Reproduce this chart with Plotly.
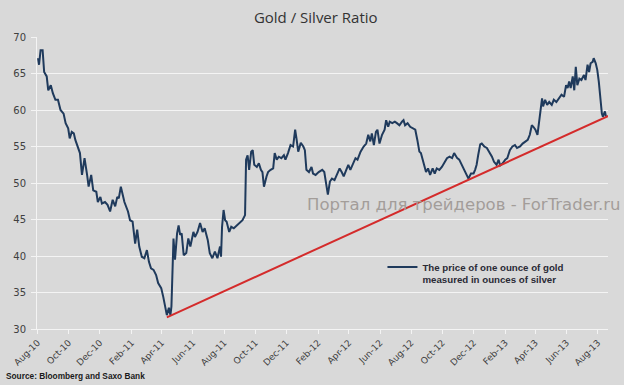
import plotly.graph_objects as go

# ---- data ----
dates = [
    "2010-08-02","2010-08-04","2010-08-07","2010-08-11","2010-08-14","2010-08-19","2010-08-22","2010-08-27","2010-08-31",
    "2010-09-05","2010-09-10","2010-09-15","2010-09-21","2010-09-25","2010-09-30",
    "2010-10-03","2010-10-07","2010-10-11","2010-10-14","2010-10-19","2010-10-23","2010-10-27",
    "2010-11-01","2010-11-06","2010-11-09","2010-11-14","2010-11-18","2010-11-24","2010-11-27",
    "2010-12-02","2010-12-05","2010-12-11","2010-12-16","2010-12-21","2010-12-26","2010-12-31",
    "2011-01-04","2011-01-07","2011-01-11","2011-01-18","2011-01-25","2011-01-29",
    "2011-02-03","2011-02-08","2011-02-12","2011-02-16","2011-02-21","2011-02-26",
    "2011-03-03","2011-03-07","2011-03-11","2011-03-16","2011-03-21","2011-03-25","2011-03-31",
    "2011-04-04","2011-04-07","2011-04-11","2011-04-15","2011-04-18","2011-04-20","2011-04-24","2011-04-27",
    "2011-05-01","2011-05-04","2011-05-07","2011-05-10","2011-05-14","2011-05-19","2011-05-23","2011-05-27",
    "2011-06-02","2011-06-05","2011-06-10","2011-06-15","2011-06-20","2011-06-24","2011-06-30",
    "2011-07-04","2011-07-09","2011-07-14","2011-07-19","2011-07-24","2011-07-26","2011-07-28","2011-07-31",
    "2011-08-03","2011-08-06","2011-08-11","2011-08-15","2011-08-20","2011-08-26",
    "2011-09-01","2011-09-06","2011-09-11","2011-09-13","2011-09-16","2011-09-19","2011-09-23","2011-09-26","2011-09-29",
    "2011-10-04","2011-10-08","2011-10-12","2011-10-15","2011-10-18","2011-10-23","2011-10-26","2011-10-31",
    "2011-11-05","2011-11-08","2011-11-12","2011-11-16","2011-11-21","2011-11-26","2011-11-29",
    "2011-12-04","2011-12-09","2011-12-14","2011-12-18","2011-12-21","2011-12-24","2011-12-29",
    "2012-01-03","2012-01-06","2012-01-09","2012-01-14","2012-01-19","2012-01-22","2012-01-27",
    "2012-02-02","2012-02-09","2012-02-13","2012-02-17","2012-02-20","2012-02-24","2012-02-28",
    "2012-03-04","2012-03-09","2012-03-14","2012-03-18","2012-03-22","2012-03-27","2012-03-31",
    "2012-04-04","2012-04-09","2012-04-14","2012-04-18","2012-04-24","2012-04-30",
    "2012-05-05","2012-05-09","2012-05-13","2012-05-16","2012-05-20","2012-05-24","2012-05-27","2012-05-31",
    "2012-06-05","2012-06-10","2012-06-13","2012-06-17","2012-06-20","2012-06-25","2012-06-30",
    "2012-07-04","2012-07-09","2012-07-14","2012-07-17","2012-07-20","2012-07-25","2012-07-30",
    "2012-08-04","2012-08-09","2012-08-13","2012-08-17","2012-08-20","2012-08-23","2012-08-27","2012-08-30",
    "2012-09-03","2012-09-07","2012-09-12","2012-09-16","2012-09-20","2012-09-25","2012-09-30",
    "2012-10-05","2012-10-10","2012-10-15","2012-10-20","2012-10-24","2012-10-30",
    "2012-11-03","2012-11-08","2012-11-13","2012-11-18","2012-11-21","2012-11-26",
    "2012-12-01","2012-12-04","2012-12-07","2012-12-10","2012-12-14","2012-12-17","2012-12-22","2012-12-27",
    "2013-01-02","2013-01-06","2013-01-10","2013-01-15","2013-01-19","2013-01-22","2013-01-27",
    "2013-02-01","2013-02-05","2013-02-10","2013-02-15","2013-02-20","2013-02-24",
    "2013-03-02","2013-03-07","2013-03-12","2013-03-17","2013-03-21","2013-03-25","2013-03-28",
    "2013-04-01","2013-04-05","2013-04-08","2013-04-11","2013-04-14","2013-04-16","2013-04-20","2013-04-24","2013-04-28",
    "2013-05-03","2013-05-07","2013-05-12","2013-05-17","2013-05-22","2013-05-27","2013-05-31",
    "2013-06-03","2013-06-06","2013-06-09","2013-06-13","2013-06-16","2013-06-19","2013-06-22","2013-06-26","2013-06-30",
    "2013-07-05","2013-07-08","2013-07-12","2013-07-15","2013-07-18","2013-07-22","2013-07-24","2013-07-28","2013-07-31",
    "2013-08-03","2013-08-06","2013-08-09","2013-08-11","2013-08-15","2013-08-17",
]
ratio = [
    67.1,66.2,68.2,68.2,65.2,64.6,62.7,63.4,62.3,
    61.4,61.4,60.0,59.5,58.2,57.5,
    56.1,57.0,56.8,55.9,54.8,54.1,51.1,
    53.4,51.1,49.5,51.1,49.0,48.8,47.4,
    48.1,47.2,47.4,47.0,46.1,47.7,46.8,
    48.1,47.9,49.5,47.4,46.1,44.9,
    44.7,41.7,43.6,41.3,39.9,39.7,
    40.8,39.2,38.3,38.1,37.4,36.3,35.6,
    34.4,33.2,31.9,32.9,31.9,33.1,42.4,39.5,
    43.1,44.2,42.9,43.1,40.1,40.4,42.4,41.3,
    43.3,42.6,43.3,44.5,43.3,43.8,42.2,
    40.4,39.7,40.6,39.7,41.3,39.9,44.0,46.3,
    44.9,44.7,43.3,44.0,43.8,44.2,
    44.7,44.9,45.6,53.2,53.8,51.8,54.3,54.5,52.5,
    52.2,52.7,51.8,51.5,49.5,50.9,51.5,51.8,
    52.0,54.1,53.2,53.6,53.4,53.8,53.2,
    54.1,55.2,55.0,57.3,55.9,54.3,55.5,
    55.0,54.5,51.8,51.5,52.2,51.3,51.1,
    51.5,51.8,51.5,50.0,48.4,50.2,50.6,
    50.4,51.1,52.0,51.5,50.9,51.8,52.5,
    51.8,52.5,53.4,53.2,54.3,55.0,
    55.4,56.6,55.7,56.8,55.2,57.0,57.3,55.4,
    56.6,57.3,58.6,57.7,58.4,58.2,58.4,
    58.2,57.9,58.4,58.6,57.9,58.2,57.7,
    57.5,57.3,55.9,54.3,54.1,53.2,52.2,51.5,
    52.0,51.1,52.0,51.3,52.0,51.8,52.2,
    52.9,53.4,53.6,53.4,54.1,53.4,
    53.2,52.5,51.8,51.1,50.6,51.3,
    51.3,51.8,52.5,53.8,55.3,55.4,55.0,54.8,
    54.1,53.6,52.9,52.5,53.2,52.4,52.7,
    53.2,53.4,54.5,55.0,55.2,54.8,
    55.0,55.4,55.7,55.9,56.6,57.9,57.7,
    57.3,56.6,58.4,60.5,61.6,60.5,61.4,60.7,61.1,
    60.7,61.4,61.1,61.6,62.1,61.8,63.4,
    63.0,63.9,63.0,64.6,62.7,65.9,63.4,64.3,64.1,
    64.8,64.1,66.2,65.2,66.4,66.6,67.1,66.4,65.5,
    63.9,61.6,59.5,59.1,59.8,59.1,
]
trend_dates = ["2011-04-11", "2013-09-13"]
trend_values = [31.6, 59.9]

tick_vals = ["2010-08-01","2010-10-01","2010-12-01","2011-02-01","2011-04-01","2011-06-01",
             "2011-08-01","2011-10-01","2011-12-01","2012-02-01","2012-04-01","2012-06-01",
             "2012-08-01","2012-10-01","2012-12-01","2013-02-01","2013-04-01","2013-06-01","2013-08-01"]
tick_text = ["Aug-10","Oct-10","Dec-10","Feb-11","Apr-11","Jun-11","Aug-11","Oct-11","Dec-11",
             "Feb-12","Apr-12","Jun-12","Aug-12","Oct-12","Dec-12","Feb-13","Apr-13","Jun-13","Aug-13"]
y_ticks = [30, 35, 40, 45, 50, 55, 60, 65, 70]

BG = "#d9d9d9"

fig = go.Figure()
fig.add_trace(go.Scatter(
    x=dates, y=ratio, mode="lines",
    line=dict(color="#1f3a5c", width=2),
    name="The price of one ounce of gold<br>measured in ounces of silver",
))
fig.add_trace(go.Scatter(
    x=trend_dates, y=trend_values, mode="lines",
    line=dict(color="#d42b2b", width=2),
    showlegend=False,
))

fig.update_layout(
    width=624, height=385,
    margin=dict(l=35, r=16, t=37, b=56),
    paper_bgcolor=BG, plot_bgcolor=BG,
    title=dict(text="Gold / Silver Ratio", x=0.506, xanchor="center",
               y=0.953, yanchor="middle", yref="container",
               font=dict(family="Open Sans", size=15, color="#333333")),
    font=dict(family="DejaVu Sans", size=9, color="#404040"),
    showlegend=True,
    legend=dict(x=0.605, y=0.256, xanchor="left", yanchor="top",
                bgcolor="rgba(0,0,0,0)", valign="top", itemwidth=30,
                font=dict(family="Liberation Sans", size=9.7, color="#2a2a35", weight="bold")),
    xaxis=dict(type="date", range=["2010-07-31", "2013-08-21"],
               tickmode="array", tickvals=tick_vals, ticktext=tick_text,
               tickangle=-45, showgrid=False, showline=True, linecolor="#f4f4f4", linewidth=1,
               ticks="outside", ticklen=4, tickcolor="#f4f4f4",
               tickfont=dict(family="DejaVu Sans", size=9, color="#404040")),
    yaxis=dict(range=[30, 70], tickmode="array", tickvals=y_ticks,
               showgrid=True, gridcolor="#f4f4f4", gridwidth=1, zeroline=False,
               showline=True, linecolor="#f4f4f4", linewidth=1,
               ticks="outside", ticklen=5, tickcolor="#f4f4f4", ticklabelstandoff=3,
               tickfont=dict(family="DejaVu Sans", size=10, color="#404040")),
    annotations=[
        dict(text="Портал для трейдеров - ForTrader.ru", xref="paper", yref="paper",
             x=0.747, y=0.425, xanchor="center", yanchor="middle", showarrow=False,
             font=dict(family="DejaVu Sans", size=16.5, color="#a39d99")),
        dict(text="Source: Bloomberg and Saxo Bank", xref="paper", yref="paper",
             x=-0.057, y=-0.161, xanchor="left", yanchor="middle", showarrow=False,
             font=dict(family="Liberation Sans", size=8.3, color="#1a1a1a", weight="bold")),
    ],
)

fig.write_html("out.html", config={"displayModeBar": False})

# remove the browser's default page margin so the figure sits at the window origin
with open("out.html", "r", encoding="utf-8") as f:
    html = f.read()
html = html.replace("<head>", "<head><style>html,body{margin:0;padding:0;overflow:hidden;}</style>", 1)
with open("out.html", "w", encoding="utf-8") as f:
    f.write(html)
